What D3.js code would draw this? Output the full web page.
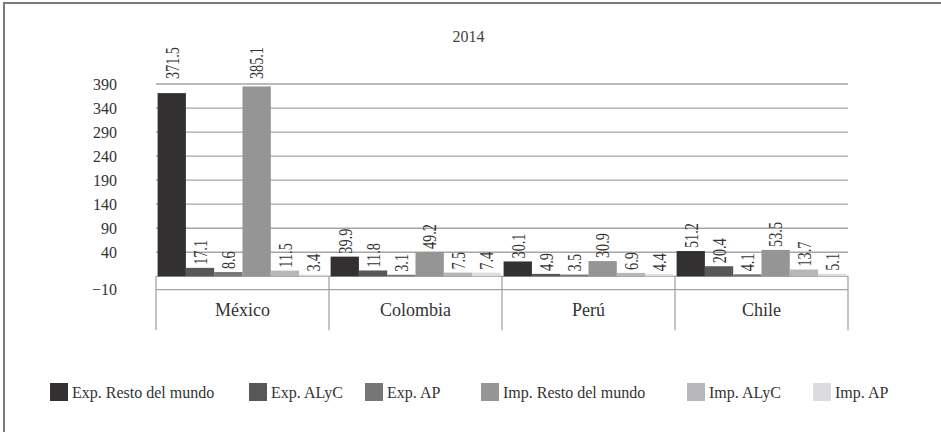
<!DOCTYPE html>
<html>
<head>
<meta charset="utf-8">
<script src="https://cdn.jsdelivr.net/npm/d3@7"></script>
<style>
  html, body { margin: 0; padding: 0; background: #fff; }
  svg { display: block; }
  text { font-family: "Liberation Serif", "DejaVu Serif", serif; fill: #333; }
</style>
</head>
<body>
<svg id="chart" width="941" height="432"></svg>
<script>
const categories = ["México", "Colombia", "Perú", "Chile"];
const seriesNames = ["Exp. Resto del mundo", "Exp. ALyC", "Exp. AP", "Imp. Resto del mundo", "Imp. ALyC", "Imp. AP"];
const expResto = [371.5, 39.9, 30.1, 51.2];
const expAlyc = [17.1, 11.8, 4.9, 20.4];
const expAp = [8.6, 3.1, 3.5, 4.1];
const impResto = [385.1, 49.2, 30.9, 53.5];
const impAlyc = [11.5, 7.5, 6.9, 13.7];
const impAp = [3.4, 7.4, 4.4, 5.1];
const tickLabels = [-10, 40, 90, 140, 190, 240, 290, 340, 390];
const title = "2014";

const seriesValues = [expResto, expAlyc, expAp, impResto, impAlyc, impAp];
const colors = ["#323031", "#575759", "#767677", "#959596", "#b7b7b9", "#dcdcde"];

// layout
const plotLeft = 156, plotRight = 848, plotTop = 84, plotBottom = 276.3;
const catRow = 13.4, catBoxH = 54;
const labelCeil = 47;
const legendY = 383, legendSw = 18;
const legendX = [50, 249, 365, 481, 687, 813];

const svg = d3.select("#chart");

// outer frame (only left/top show in the crop)
svg.append("rect")
  .attr("x", 4).attr("y", 3).attr("width", 1200).attr("height", 1200)
  .attr("fill", "none").attr("stroke", "#7a7a7a").attr("stroke-width", 2);

svg.append("text")
  .attr("x", 468.5).attr("y", 42)
  .attr("text-anchor", "middle")
  .style("font-size", "16px")
  .style("fill", "#444")
  .text(title);

const y = d3.scaleLinear().domain([0, d3.max(tickLabels)]).range([plotBottom, plotTop]);
const yTick = d3.scalePoint().domain(tickLabels).range([plotBottom, plotTop]);
const x0 = d3.scaleBand().domain(categories).range([plotLeft, plotRight]);
const x1 = d3.scaleBand().domain(seriesNames).range([1.6, x0.bandwidth() - 1.6]);

// gridlines
svg.append("g")
  .selectAll("line")
  .data(tickLabels)
  .join("line")
  .attr("x1", plotLeft).attr("x2", plotRight)
  .attr("y1", d => yTick(d)).attr("y2", d => yTick(d))
  .attr("stroke", "#a5a5a5").attr("stroke-width", 1.3);

// y axis labels
const yAxis = svg.append("g")
  .attr("transform", `translate(${plotLeft},0)`)
  .call(d3.axisLeft(yTick).tickSize(0).tickPadding(39)
    .tickFormat(d => d < 0 ? "\u2212" + Math.abs(d) : d));
yAxis.select(".domain").remove();
yAxis.selectAll("text")
  .style("font-size", "16px")
  .style("font-family", "Liberation Serif, serif")
  .attr("fill", "#3a3a3a")
  .attr("dy", d => d === tickLabels[0] ? (catRow / 16 + 0.32) + "em" : "0.32em");

// category axis box
const catG = svg.append("g");
catG.append("line")
  .attr("x1", plotLeft).attr("x2", plotRight)
  .attr("y1", plotBottom + catRow).attr("y2", plotBottom + catRow)
  .attr("stroke", "#a5a5a5").attr("stroke-width", 1.3);
const bounds = categories.map(c => x0(c)).concat([plotRight]);
catG.selectAll("line.sep")
  .data(bounds)
  .join("line")
  .attr("class", "sep")
  .attr("x1", d => d).attr("x2", d => d)
  .attr("y1", plotBottom).attr("y2", plotBottom + catBoxH)
  .attr("stroke", "#a5a5a5").attr("stroke-width", 1.3);
catG.selectAll("text")
  .data(categories)
  .join("text")
  .attr("x", d => x0(d) + x0.bandwidth() / 2)
  .attr("y", plotBottom + catRow + (catBoxH - catRow) / 2)
  .attr("dy", "0.35em")
  .attr("text-anchor", "middle")
  .style("font-size", "18px")
  .text(d => d);

// bars
const rows = [];
categories.forEach((c, i) => {
  seriesNames.forEach((s, j) => rows.push({ cat: c, series: s, idx: j, value: seriesValues[j][i] }));
});

svg.append("g")
  .selectAll("rect")
  .data(rows)
  .join("rect")
  .attr("x", d => x0(d.cat) + x1(d.series))
  .attr("y", d => y(d.value))
  .attr("width", x1.bandwidth())
  .attr("height", d => y(0) - y(d.value))
  .attr("fill", d => colors[d.idx]);

// data labels, rotated
const lbl = svg.append("g")
  .selectAll("text")
  .data(rows)
  .join("text")
  .style("font-size", "19px")
  .attr("dy", "0.36em")
  .text(d => d.value.toFixed(1));

lbl.each(function (d) {
  const len = this.getComputedTextLength() * 0.75;
  const cx = x0(d.cat) + x1(d.series) + x1.bandwidth() / 2;
  let start = y(d.value) - 3;
  if (start - len < plotTop) start = labelCeil + len;
  d3.select(this).attr("transform", `translate(${cx},${start}) rotate(-90) scale(0.75,1)`);
});

// legend
const leg = svg.append("g")
  .selectAll("g")
  .data(seriesNames)
  .join("g")
  .attr("transform", (d, i) => `translate(${legendX[i]},${legendY})`);
leg.append("rect")
  .attr("width", legendSw).attr("height", legendSw)
  .attr("fill", (d, i) => colors[i]);
leg.append("text")
  .attr("x", legendSw + 4)
  .attr("y", legendSw / 2)
  .attr("dy", "0.35em")
  .style("font-size", "16px")
  .text(d => d);
</script>
</body>
</html>
